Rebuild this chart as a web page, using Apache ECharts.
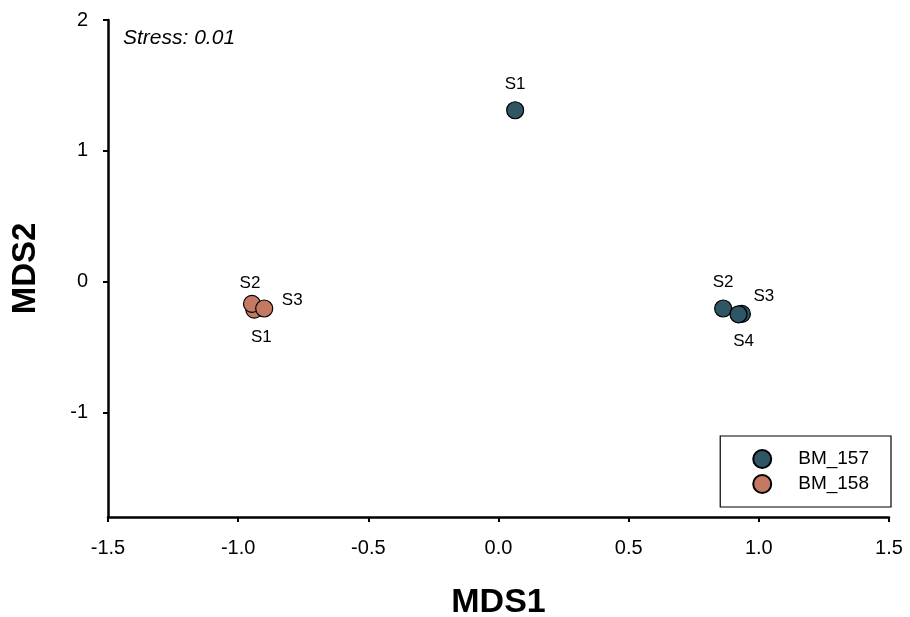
<!DOCTYPE html>
<html><head><meta charset="utf-8">
<script src="https://cdn.jsdelivr.net/npm/echarts@6/dist/echarts.min.js"></script>
<style>html,body{margin:0;padding:0;background:#fff}#c{width:910px;height:617px}</style>
</head><body><div id="c"></div>
<script>
const xTicks = [-1.5, -1.0, -0.5, 0.0, 0.5, 1.0, 1.5];
const yTicks = [-1, 0, 1, 2];
const bm157Names = ['S1', 'S2', 'S3', 'S4'];
const bm157X = [0.064, 0.863, 0.935, 0.922];
const bm157Y = [1.31, -0.206, -0.247, -0.25];
const bm158Names = ['S1', 'S2', 'S3'];
const bm158X = [-0.938, -0.947, -0.9];
const bm158Y = [-0.214, -0.17, -0.206];
const stressText = 'Stress: 0.01';

const lab157 = [[0, -26], [0, -26], [22, -18], [5, 27]];
const lab158 = [[7, 28], [-2, -21], [28, -8]];

function build(names, xs, ys, offs) {
  return names.map((n, i) => ({
    value: [xs[i], ys[i]], name: n,
    label: { offset: offs[i] }
  }));
}
const font = 'Liberation Sans, Arial, sans-serif';
const chart = echarts.init(document.getElementById('c'));
const sLabel = { show: true, position: 'inside', formatter: p => p.name, color: '#000', fontSize: 17, fontFamily: font };
chart.setOption({
  animation: false,
  grid: { left: 108, right: 21, top: 20, bottom: 100, containLabel: false, outerBoundsMode: 'none' },
  title: { text: stressText, left: 118, top: 23, textStyle: { fontStyle: 'italic', fontWeight: 'normal', fontSize: 21, fontFamily: font, color: '#000' } },
  legend: {
    orient: 'vertical', right: 19, bottom: 110, padding: [13, 22, 13, 32],
    borderColor: '#000', borderWidth: 1.2, itemGap: 5, itemWidth: 18, itemHeight: 18,
    textStyle: { fontSize: 19, fontFamily: font, color: '#000', padding: [0, 0, 0, 22] },
    data: ['BM_157', 'BM_158'], icon: 'circle'
  },
  xAxis: {
    type: 'value', min: -1.5, max: 1.5, interval: 0.5,
    name: 'MDS1', nameLocation: 'middle', nameGap: 69,
    nameTextStyle: { fontSize: 34, fontWeight: 'bold', fontFamily: font, color: '#000' },
    axisLine: { show: true, onZero: false, lineStyle: { color: '#000', width: 2.5 } },
    axisTick: { show: true, length: 5, lineStyle: { color: '#000', width: 2 } },
    axisLabel: { fontSize: 20, fontFamily: font, color: '#000', margin: 21, formatter: v => v.toFixed(1) },
    splitLine: { show: false }
  },
  yAxis: {
    type: 'value', min: -1.8, max: 2,
    name: 'MDS2', nameLocation: 'middle', nameGap: 66,
    nameTextStyle: { fontSize: 33, fontWeight: 'bold', fontFamily: font, color: '#000' },
    axisLine: { show: true, onZero: false, lineStyle: { color: '#000', width: 2.5 } },
    axisTick: { show: true, length: 5, customValues: yTicks, lineStyle: { color: '#000', width: 2 } },
    axisLabel: { fontSize: 20, fontFamily: font, color: '#000', margin: 20, customValues: yTicks },
    splitLine: { show: false }
  },
  series: [
    { name: 'BM_157', type: 'scatter', symbolSize: 17,
      itemStyle: { color: '#2f5664', borderColor: '#000', borderWidth: 1.2, opacity: 1 },
      label: sLabel, data: build(bm157Names, bm157X, bm157Y, lab157) },
    { name: 'BM_158', type: 'scatter', symbolSize: 17,
      itemStyle: { color: '#c47a62', borderColor: '#000', borderWidth: 1.2, opacity: 1 },
      label: sLabel, data: build(bm158Names, bm158X, bm158Y, lab158) }
  ]
});
</script></body></html>
